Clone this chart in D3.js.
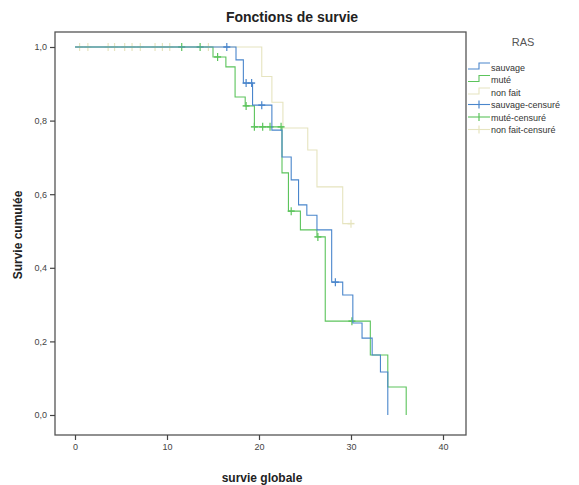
<!DOCTYPE html>
<html><head><meta charset="utf-8">
<script src="https://cdn.jsdelivr.net/npm/d3@7/dist/d3.min.js"></script>
<style>
html,body{margin:0;padding:0;background:#fff;}
svg{display:block;font-family:"Liberation Sans",Arial,sans-serif;}
</style></head>
<body>
<svg id="chart" width="579" height="485"></svg>
<script>
// ---- data ----
const groups = ["sauvage", "muté", "non fait"];
const colors = ["#4a86cc", "#5cc45c", "#e6e4bf"];
const censorLabels = ["sauvage-censuré", "muté-censuré", "non fait-censuré"];

const sauvageTimes  = [17.5, 18.3, 19.3, 21.4, 22.5, 23.5, 24.3, 25.2, 26.3, 27.9, 29.1, 30.2, 31.2, 32.3, 33.2, 34.0];
const sauvageSurv   = [0.965, 0.902, 0.842, 0.774, 0.701, 0.639, 0.571, 0.543, 0.503, 0.361, 0.326, 0.250, 0.209, 0.163, 0.117, 0.0];
const sauvageCens   = [16.5, 18.6, 19.2, 20.3, 28.3];

const muteTimes     = [15.0, 16.4, 17.4, 18.5, 19.5, 22.5, 23.2, 24.5, 26.3, 27.2, 32.1, 34.0, 36.0];
const muteSurv      = [0.973, 0.946, 0.864, 0.840, 0.783, 0.658, 0.554, 0.503, 0.484, 0.255, 0.163, 0.076, 0.0];
const muteCens      = [11.6, 13.6, 15.5, 18.6, 19.5, 20.4, 21.2, 22.4, 23.5, 26.4, 30.1];

const nonFaitTimes  = [20.3, 21.4, 22.6, 25.3, 26.3, 29.1];
const nonFaitSurv   = [0.92, 0.85, 0.78, 0.72, 0.62, 0.52];
const nonFaitCens   = [0.5, 1.4, 3.6, 4.3, 5.4, 6.2, 7.1, 8.7, 9.5, 10.3, 14.5, 30.0];

const xTicks = [0, 10, 20, 30, 40];
const yTicks = [0, 0.2, 0.4, 0.6, 0.8, 1.0];

const series = [
  {name: groups[0], times: sauvageTimes, surv: sauvageSurv, cens: sauvageCens, color: colors[0]},
  {name: groups[1], times: muteTimes, surv: muteSurv, cens: muteCens, color: colors[1]},
  {name: groups[2], times: nonFaitTimes, surv: nonFaitSurv, cens: nonFaitCens, color: colors[2]}
];

// ---- layout ----
const svg = d3.select("#chart");
const frame = {left: 55, top: 32, right: 466, bottom: 435};
const x = d3.scaleLinear().domain([0, 40]).range([75, 443]);
const y = d3.scaleLinear().domain([0, 1]).range([415, 47]);

// plot frame
svg.append("rect")
  .attr("x", frame.left).attr("y", frame.top)
  .attr("width", frame.right - frame.left).attr("height", frame.bottom - frame.top)
  .attr("fill", "#fff").attr("stroke", "#555").attr("stroke-width", 1.3);

// axes
const fmt = d => d3.format(".1f")(d).replace(".", ",");
const xAxis = svg.append("g").attr("transform", `translate(0,${frame.bottom})`)
  .call(d3.axisBottom(x).tickValues(xTicks).tickSize(5).tickPadding(4).tickFormat(d3.format("d")));
const yAxis = svg.append("g").attr("transform", `translate(${frame.left},0)`)
  .call(d3.axisLeft(y).tickValues(yTicks).tickSize(5).tickPadding(3).tickFormat(fmt));
[xAxis, yAxis].forEach(g => {
  g.select(".domain").remove();
  g.selectAll("line").attr("stroke", "#444").attr("stroke-width", 1.2);
  g.selectAll("text").attr("fill", "#444").style("font-size", "9px");
});

// KM step curves
function kmPoints(s) {
  const pts = [[0, 1]];
  let cur = 1;
  s.times.forEach((t, i) => { pts.push([t, cur]); cur = s.surv[i]; pts.push([t, cur]); });
  if (cur > 0) {
    const lastC = d3.max(s.cens);
    const lastT = s.times[s.times.length - 1];
    if (lastC > lastT) pts.push([lastC, cur]);
  }
  return pts;
}
function survAt(s, t) {
  let v = 1;
  s.times.forEach((tt, i) => { if (tt <= t) v = s.surv[i]; });
  return v;
}
const line = d3.line().x(d => x(d[0])).y(d => y(d[1]));

// draw faint series first
[2, 1, 0].forEach(k => {
  const s = series[k];
  svg.append("path").datum(kmPoints(s))
    .attr("d", line).attr("fill", "none")
    .attr("stroke", s.color).attr("stroke-width", 1.1);
  const g = svg.append("g");
  s.cens.forEach(t => {
    const cx = x(t), cy = y(survAt(s, t));
    g.append("line").attr("x1", cx).attr("x2", cx).attr("y1", cy - 4).attr("y2", cy + 4)
      .attr("stroke", s.color).attr("stroke-width", 1.2);
    g.append("line").attr("x1", cx - 3.5).attr("x2", cx + 3.5).attr("y1", cy).attr("y2", cy)
      .attr("stroke", s.color).attr("stroke-width", 1.5);
  });
});

// titles
svg.append("text").attr("x", 292).attr("y", 22).attr("text-anchor", "middle")
  .style("font-size", "14px").style("font-weight", "bold").attr("fill", "#222")
  .text("Fonctions de survie");
svg.append("text").attr("x", 262).attr("y", 482).attr("text-anchor", "middle")
  .style("font-size", "12px").style("font-weight", "bold").attr("fill", "#222")
  .text("survie globale");
svg.append("text").attr("transform", "translate(22,235) rotate(-90)").attr("text-anchor", "middle")
  .style("font-size", "12px").style("font-weight", "bold").attr("fill", "#222")
  .text("Survie cumulée");

// legend
const lg = svg.append("g");
lg.append("text").attr("x", 523).attr("y", 46).attr("text-anchor", "middle")
  .style("font-size", "11px").attr("fill", "#555").text("RAS");
const rowY = i => 67 + i * 12.5;
const labels = groups.concat(censorLabels);
labels.forEach((lab, i) => {
  const yy = rowY(i);
  const c = colors[i % 3];
  if (i < 3) {
    lg.append("path").attr("d", `M468,${yy + 2}H479V${yy - 4}H490`)
      .attr("fill", "none").attr("stroke", c).attr("stroke-width", 1.1);
  } else {
    lg.append("line").attr("x1", 468).attr("x2", 490).attr("y1", yy).attr("y2", yy)
      .attr("stroke", c).attr("stroke-width", 1.1);
    lg.append("line").attr("x1", 479).attr("x2", 479).attr("y1", yy - 4).attr("y2", yy + 4)
      .attr("stroke", c).attr("stroke-width", 1.2);
  }
  lg.append("text").attr("x", 491).attr("y", yy + 3.5)
    .style("font-size", "9px").attr("fill", "#333").text(lab);
});
</script>
</body></html>
